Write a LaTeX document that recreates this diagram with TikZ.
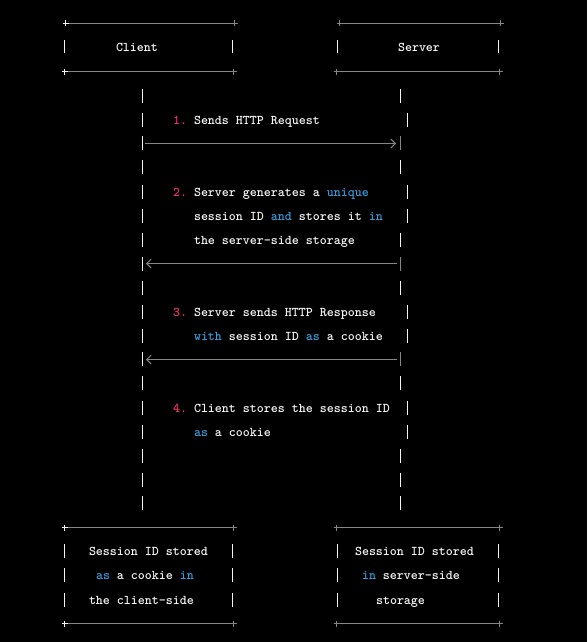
\documentclass[tikz,border=0pt]{standalone}
\usepackage{fontspec}
\usetikzlibrary{arrows.meta}
\newfontfamily\codefont{lmmonolt10-bold.otf}
\definecolor{txtc}{RGB}{245,245,245}
\definecolor{kwc}{RGB}{55,155,220}
\definecolor{numc}{RGB}{235,50,105}
\definecolor{linec}{RGB}{135,135,135}
\newcommand\kw[1]{\textcolor{kwc}{#1}}
\newcommand\num[1]{\textcolor{numc}{#1}}
\newcommand\vbarx[3][barline]{\draw[#1] (#2,#3-7) -- (#2,#3+6.5);}
\newcommand\plusx[3]{\draw[#3] (#1-3,#2) -- (#1+3,#2) (#1,#2-3) -- (#1,#2+3);}
\tikzset{
  txt/.style={font=\codefont\fontsize{13.33}{13.33}\selectfont, text=txtc, anchor=base west, inner sep=0pt, outer sep=0pt},
  barline/.style={draw=txtc, line width=1pt},
  graybar/.style={draw=linec, line width=1pt},
  gline/.style={draw=linec, line width=1pt},
  wplus/.style={draw=txtc, line width=1pt},
  gplus/.style={draw=linec, line width=1pt},
  msg/.style={draw=linec, line width=1pt, -{Straight Barb[length=4.5pt,width=9pt,line width=1pt]}},
}
\begin{document}
\begin{tikzpicture}[x=1pt,y=-1pt]
\fill[black] (0,0) rectangle (587,642);
\useasboundingbox (0,0) rectangle (587,642);

% ---------- header boxes ----------
\draw[gline] (63,23.5) -- (237,23.5);
\draw[gline] (63,71.5) -- (236,71.5);
\plusx{65.5}{23.5}{wplus}\plusx{234.5}{23.5}{gplus}
\plusx{64.5}{71.5}{wplus}\plusx{233.5}{71.5}{gplus}
\vbarx{64.5}{47}\vbarx{232.5}{47}
\node[txt] (client) at (116,52) {Client};

\draw[gline] (337,23.5) -- (502,23.5);
\draw[gline] (334,71.5) -- (500,71.5);
\plusx{339.5}{23.5}{gplus}\plusx{500.5}{23.5}{gplus}
\plusx{336.5}{71.5}{gplus}\plusx{499.5}{71.5}{gplus}
\vbarx{337.5}{47}\vbarx{498.5}{47}
\node[txt] (server) at (398,52) {Server};

% ---------- lifelines ----------
\foreach \r in {96,120,143,167,192,216,240,264,288,312,336,359,383,408,432,456,480,503}
  {\vbarx{142.5}{\r}}
\foreach \r in {96,167,240,288,383,456,480,503}
  {\vbarx{400.5}{\r}}
\foreach \r in {143,264,359}
  {\vbarx[graybar]{400.5}{\r}}
\foreach \r in {120,192,216,312,336,408,432}
  {\vbarx{407.5}{\r}}

% ---------- messages ----------
\coordinate (c1) at (145,143.5);
\coordinate (s1) at (396,143.5);
\coordinate (s2) at (397,263.5);
\coordinate (c2) at (146,263.5);
\coordinate (s3) at (397,359.5);
\coordinate (c3) at (146,359.5);
\draw[msg] (c1) -- (s1);
\draw[msg] (s2) -- (c2);
\draw[msg] (s3) -- (c3);

% ---------- step texts ----------
\node[txt] (n1) at (173,124.5) {\num{1.}};
\node[txt] (t1) at (194,124.5) {Sends HTTP Request};

\node[txt] (n2) at (173,196.5) {\num{2.}};
\node[txt] (t2a) at (194,196.5) {Server generates a \kw{unique}};
\node[txt] (t2b) at (194,220.5) {session ID \kw{and} stores it \kw{in}};
\node[txt] (t2c) at (194,244.5) {the server-side storage};

\node[txt] (n3) at (173,316.5) {\num{3.}};
\node[txt] (t3a) at (194,316.5) {Server sends HTTP Response};
\node[txt] (t3b) at (194,340.5) {\kw{with} session ID \kw{as} a cookie};

\node[txt] (n4) at (173,412.5) {\num{4.}};
\node[txt] (t4a) at (194,412.5) {Client stores the session ID};
\node[txt] (t4b) at (194,436.5) {\kw{as} a cookie};

% ---------- bottom boxes ----------
\draw[gline] (63,527.5) -- (236,527.5);
\draw[gline] (63,623.5) -- (236,623.5);
\plusx{64.5}{527.5}{wplus}\plusx{233.5}{527.5}{gplus}
\plusx{64.5}{623.5}{wplus}\plusx{233.5}{623.5}{gplus}
\foreach \r in {551,575,600} {\vbarx{64.5}{\r}\vbarx{232.5}{\r}}
\node[txt] (cb1) at (89,555.5) {Session ID stored};
\node[txt] (cb2) at (96,579.5) {\kw{as} a cookie \kw{in}};
\node[txt] (cb3) at (89,604.5) {the client-side};

\draw[gline] (335,527.5) -- (501,527.5);
\draw[gline] (335,623.5) -- (501,623.5);
\plusx{336.5}{527.5}{gplus}\plusx{499.5}{527.5}{gplus}
\plusx{336.5}{623.5}{gplus}\plusx{499.5}{623.5}{gplus}
\foreach \r in {551,575,600} {\vbarx{337.5}{\r}\vbarx{498.5}{\r}}
\node[txt] (sb1) at (355,555.5) {Session ID stored};
\node[txt] (sb2) at (362,579.5) {\kw{in} server-side};
\node[txt] (sb3) at (376,604.5) {storage};
\end{tikzpicture}
\end{document}
